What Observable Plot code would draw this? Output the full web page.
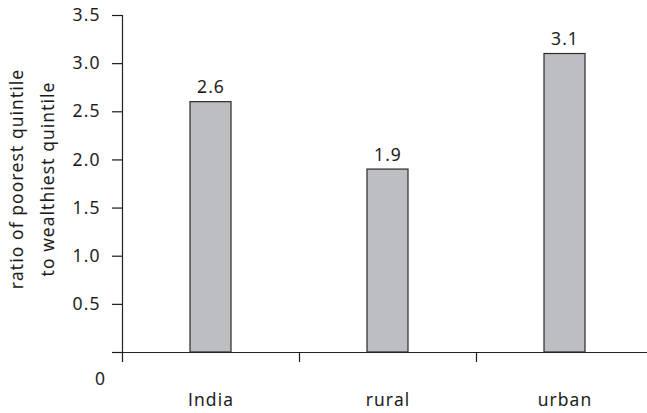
<!DOCTYPE html>
<html>
<head>
<meta charset="utf-8">
<script src="https://cdn.jsdelivr.net/npm/d3@7"></script>
<script src="https://cdn.jsdelivr.net/npm/@observablehq/plot@0.6"></script>
<style>
  html, body { margin: 0; padding: 0; background: #fff; }
  svg text { font-family: 'Open Sans', sans-serif; font-size: 17.5px; letter-spacing: 1.1px; stroke: #1a1a1a; stroke-width: 0.12px; }
</style>
</head>
<body>
<div id="chart"></div>
<script>
const categories = ["India", "rural", "urban"];
const ratios = [2.6, 1.9, 3.1];
const yTicks = [0, 0.5, 1.0, 1.5, 2.0, 2.5, 3.0, 3.5];
const yLabel = "ratio of poorest quintile\nto wealthiest quintile";

const data = categories.map((c, i) => ({cat: c, value: ratios[i]}));
const step = (653 - 122) / categories.length;
const fs = 17.5;

const chart = Plot.plot({
  width: 647,
  height: 413,
  marginLeft: 122,
  marginRight: 0,
  marginTop: 15,
  marginBottom: 61,
  style: {fontFamily: "'Open Sans', sans-serif", fontSize: "17.5px", color: "#1a1a1a", background: "#fff"},
  x: {type: "band", domain: categories, range: [122, 653], paddingInner: 0.768, paddingOuter: 0.384},
  y: {domain: [0, 3.5]},
  marks: [
    Plot.barY(data, {x: "cat", y: "value", fill: "#bdbec2", stroke: "#2a2a2a", strokeWidth: 1.2}),
    Plot.text(data, {x: "cat", y: "value", text: d => d.value.toFixed(1), lineAnchor: "bottom", dy: -9, fill: "#1a1a1a", fontSize: fs}),
    Plot.frame({anchor: "left", stroke: "#222", strokeWidth: 1.2}),
    Plot.frame({anchor: "bottom", stroke: "#222", strokeWidth: 1.2}),
    Plot.axisY({ticks: yTicks, tickSize: 10, tickPadding: 12, tickFormat: d => d === 0 ? "" : d.toFixed(1), label: null, strokeWidth: 1.2, fontSize: fs}),
    Plot.text([0], {y: d => d, text: d => String(d), frameAnchor: "left", textAnchor: "middle", dx: -22, dy: 27, fill: "#1a1a1a", fontSize: fs}),
    Plot.axisX({tickSize: 10, dx: -step / 2, tickFormat: () => "", label: null, strokeWidth: 1.2}),
    Plot.axisX({tickSize: 0, tickPadding: 41, label: null, fill: "#1a1a1a", fontSize: fs}),
    Plot.text([yLabel], {frameAnchor: "left", rotate: -90, dx: -94, dy: -5, textAnchor: "middle", lineHeight: 1.75, fill: "#1a1a1a", fontSize: fs})
  ]
});
document.getElementById("chart").appendChild(chart);
</script>
</body>
</html>
